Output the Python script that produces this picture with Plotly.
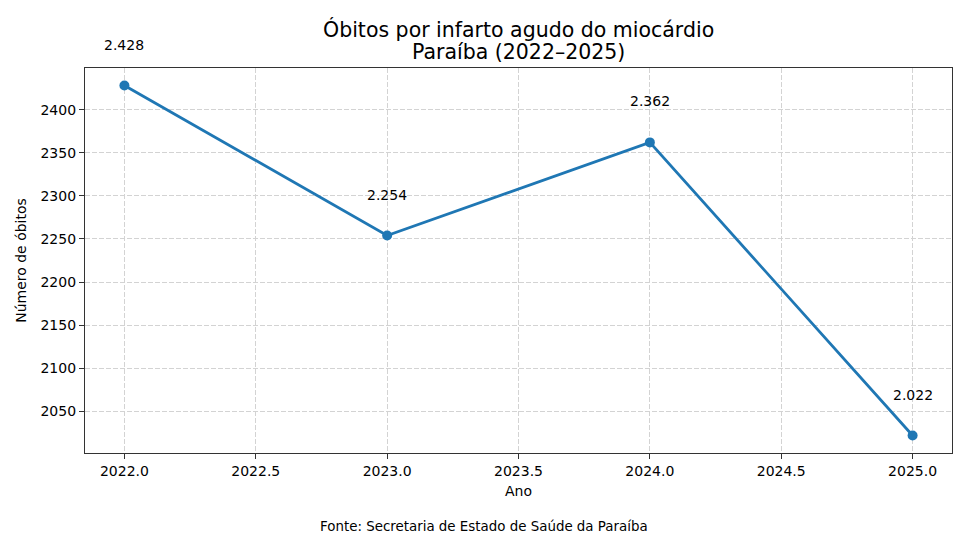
import plotly.graph_objects as go

anos = [2022, 2023, 2024, 2025]
obitos = [2428, 2254, 2362, 2022]
rotulos = ["2.428", "2.254", "2.362", "2.022"]
titulo = ["Óbitos por infarto agudo do miocárdio", "Paraíba (2022–2025)"]

cor = "#1f77b4"
fonte = "DejaVu Sans"

fig = go.Figure()
fig.add_trace(go.Scatter(
    x=anos, y=obitos, mode="lines+markers",
    line=dict(color=cor, width=2.8),
    marker=dict(color=cor, size=10),
    showlegend=False, cliponaxis=False,
))

for a, v, r in zip(anos, obitos, rotulos):
    fig.add_annotation(x=a, y=v, text=r, showarrow=False, yshift=41,
                       font=dict(size=14, color="black", family=fonte))

# titulo em duas linhas
for linha, ypix in zip(titulo, [29, 52]):
    fig.add_annotation(x=0.5, y=(453 - ypix) / 385, xref="paper", yref="paper",
                       text=linha, showarrow=False, xanchor="center", yanchor="middle",
                       font=dict(size=20.5, color="black", family=fonte))

fig.add_annotation(x=(484 - 85) / 867, y=-(526 - 453) / 385, xref="paper", yref="paper",
                   text="Fonte: Secretaria de Estado de Saúde da Paraíba", showarrow=False,
                   font=dict(size=13.4, color="black", family=fonte),
                   xanchor="center", yanchor="middle")

eixo = dict(
    showline=True, linecolor="#333333", linewidth=1.2, mirror=True,
    ticks="outside", ticklen=5, tickcolor="#333333", tickwidth=1.1,
    showgrid=True, gridcolor="#d3d3d3", griddash="5px,2px", gridwidth=1,
    zeroline=False,
    tickfont=dict(size=14, color="black", family=fonte),
)

fig.update_layout(
    width=968, height=537,
    margin=dict(l=85, r=16, t=68, b=84),
    paper_bgcolor="white", plot_bgcolor="white",
    font=dict(family=fonte, color="black"),
    xaxis=dict(eixo, range=[2021.85, 2025.15], dtick=0.5, tick0=2022, tickformat=".1f",
               title=dict(text="Ano", font=dict(size=14, family=fonte), standoff=8)),
    yaxis=dict(eixo, range=[2001.7, 2448.3], dtick=50, tick0=2000,
               title=dict(text="Número de óbitos", font=dict(size=14, family=fonte), standoff=10)),
)

fig.write_html("out.html", config={"displayModeBar": False},
               post_script="document.body.style.margin='0';")
